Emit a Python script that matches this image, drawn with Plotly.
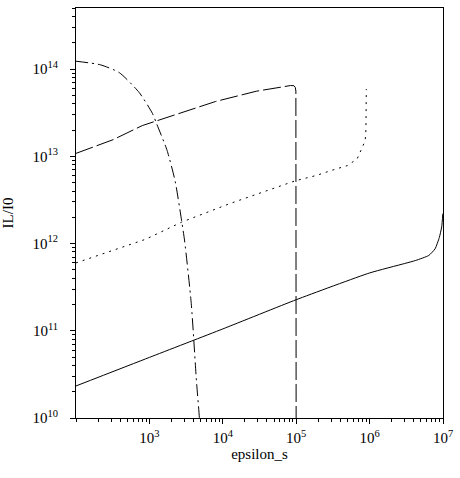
"""
Log-log plot of IL/I0 against epsilon_s, four curves in black line styles.
"""
import plotly.graph_objects as go

# ---------------------------------------------------------------------------
# Data
# ---------------------------------------------------------------------------

solid_x = [1e2, 1e3, 1e4, 1e5, 1e6, 3e6, 4.25e6, 6.4e6, 7.8e6, 8.9e6, 9.6e6, 9.95e6]
solid_y = [2.33e10, 4.95e10, 1.05e11, 2.27e11, 4.6e11, 5.9e11, 6.4e11,
           7.3e11, 8.7e11, 1.17e12, 1.55e12, 2.2e12]

dashdot_x = [1e2, 2.14e2, 3.89e2, 7.24e2, 1.10e3, 1.26e3, 1.74e3, 2.24e3,
             2.75e3, 3.02e3, 3.72e3, 4.37e3, 4.79e3, 5.0e3]
dashdot_y = [1.23e14, 1.12e14, 9.1e13, 5.4e13, 3.1e13, 2.34e13, 1.17e13,
             5.2e12, 1.82e12, 1.07e12, 2.04e11, 2.7e10, 1.02e10, 5e9]

dashed_x = [1e2, 3.2e2, 8.0e2, 2.34e3, 7.98e3, 2.86e4, 6.0e4, 8.36e4,
            9.3e4, 9.72e4, 9.9e4, 1e5]
dashed_y = [1.08e13, 1.55e13, 2.25e13, 3.01e13, 4.25e13, 5.57e13, 6.2e13,
            6.47e13, 6.45e13, 6.17e13, 5.6e13, 1e9]

dotted_x = [1e2, 8.9e2, 2.75e3, 1.26e4, 9.8e4, 1.88e5, 2.99e5, 4.98e5, 6.76e5,
            7.87e5, 8.71e5, 8.91e5, 9.0e5, 9.02e5]
dotted_y = [6.0e11, 1.12e12, 1.76e12, 2.88e12, 5.25e12, 6.03e12, 6.87e12,
            7.83e12, 9.33e12, 1.22e13, 1.51e13, 2.0e13, 3.1e13, 5.9e13]

x_ticks = [1e3, 1e4, 1e5, 1e6, 1e7]
x_ticktext = ['10<sup>3</sup>', '10<sup>4</sup>', '10<sup>5</sup>',
              '10<sup>6</sup>', '10<sup>7</sup>']
y_ticks = [1e10, 1e11, 1e12, 1e13, 1e14]
y_ticktext = ['10<sup>10</sup>', '10<sup>11</sup>', '10<sup>12</sup>',
              '10<sup>13</sup>', '10<sup>14</sup>']

FONT = 'Liberation Serif'


def _axis(tickvals, ticktext, rng, title, label_gap, title_gap):
    return dict(
        type='log', range=rng,
        tickmode='array', tickvals=tickvals, ticktext=ticktext,
        ticks='outside', ticklen=5, tickcolor='black',
        ticklabelstandoff=label_gap, ticklabeloverflow='allow',
        minor=dict(ticks='outside', ticklen=3, tickcolor='black',
                   dtick='D1', showgrid=False),
        showline=True, linecolor='black', linewidth=1, mirror=True,
        showgrid=False, zeroline=False,
        tickfont=dict(family=FONT, size=15, color='black'),
        title=dict(text=title, font=dict(family=FONT, size=15, color='black'),
                   standoff=title_gap),
    )


fig = go.Figure()
line = dict(color='black', width=1)
fig.add_trace(go.Scatter(x=solid_x, y=solid_y, mode='lines',
                         line=dict(**line, shape='spline', smoothing=0.5)))
fig.add_trace(go.Scatter(x=dashdot_x, y=dashdot_y, mode='lines',
                         line=dict(**line, dash='12px,4px,2px,4px',
                                   shape='spline', smoothing=0.6)))
fig.add_trace(go.Scatter(x=dashed_x, y=dashed_y, mode='lines',
                         line=dict(**line, dash='18px,4px')))
fig.add_trace(go.Scatter(x=dotted_x, y=dotted_y, mode='lines',
                         line=dict(**line, dash='2px,5px')))

fig.update_layout(
    width=460, height=478,
    plot_bgcolor='white', paper_bgcolor='white',
    showlegend=False,
    margin=dict(l=72, r=12, t=7, b=60),
    xaxis=_axis(x_ticks, x_ticktext, [2, 7], 'epsilon_s', 1, 0),
    yaxis=_axis(y_ticks, y_ticktext, [10, 14.70], 'IL/I0', 9, 15),
)

# drop the default page margin so the figure fills the window exactly
fig.write_html('out.html', config={'displayModeBar': False},
               post_script="document.body.style.margin = '0';")
